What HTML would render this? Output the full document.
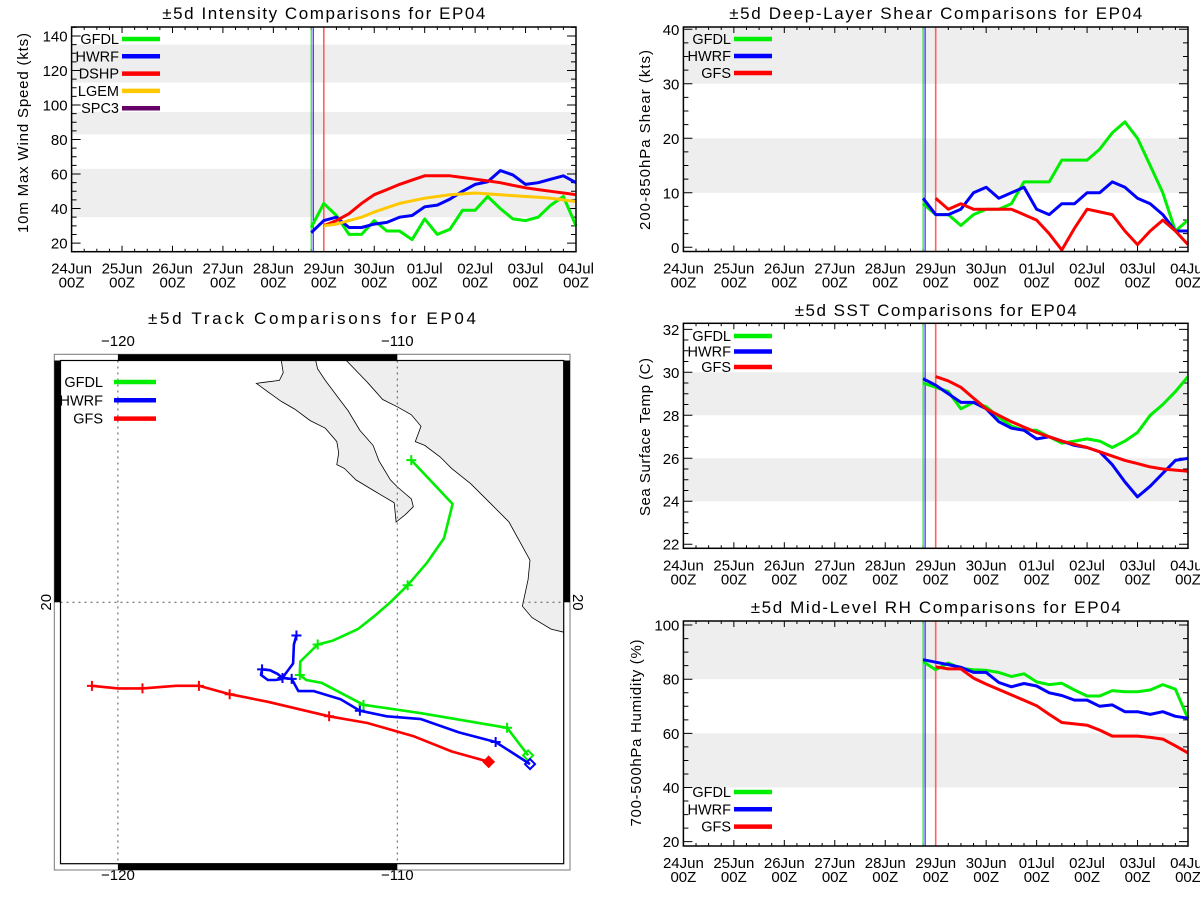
<!DOCTYPE html>
<html><head><meta charset="utf-8"><style>
html,body{margin:0;padding:0;background:#fff}
svg{display:block;font-family:"Liberation Sans",sans-serif}
</style></head><body>
<svg id="root" width="1200" height="900" viewBox="0 0 1200 900" xmlns="http://www.w3.org/2000/svg"></svg>
<script>
// ---------- DATA ----------
const dayLabels = ['24Jun','25Jun','26Jun','27Jun','28Jun','29Jun','30Jun','01Jul','02Jul','03Jul','04Jul'];
const hourLabel = '00Z';
const startEarly = 4.75; // 28Jun 18Z
const startLate = 5.0;   // 29Jun 00Z
const initLinesDays = [4.75, 4.79, 5.0];

const intensityTicks = [20,40,60,80,100,120,140];
const intensityBands = [[35,63],[83,96],[113,135]];
const intGFDL = [29,43,36,25,25,33,27,27,22,34,25,28,39,39,47,40,34,33,35,42,47,30];
const intHWRF = [26,33,35,29,29,31,32,35,36,41,42,45.5,50,54,55.5,62,59.5,54,55,57,59,55];
const intDSHP = [30,33,37,43,48,51,54,56.5,59,59,59,58,57,56,55,53.5,52,51,50,49,48];
const intLGEM = [30,31,33,35,38,40.5,43,44.5,46,47,48,48.5,49,48.5,48,47.5,47,46.5,46,45,44];
const intSPC3 = [];

const shearTicks = [0,10,20,30,40];
const shearBands = [[10,20],[30,42]];
const shrGFDL = [8,6,6,4,6,7,7,8,12,12,12,16,16,16,18,21,23,20,15,10,3,5];
const shrHWRF = [9,6,6,7,10,11,9,10,11,7,6,8,8,10,10,12,11,9,8,6,3,3];
const shrGFS = [9,7,8,7,7,7,7,6,5,2.5,-0.5,3.5,7,6.5,6,3,0.5,3,5,3,0.5];

const sstTicks = [22,24,26,28,30,32];
const sstBands = [[24,26],[28,30]];
const sstGFDL = [29.5,29.3,29.1,28.3,28.6,28.4,27.9,27.5,27.3,27.3,27.0,26.7,26.8,26.9,26.8,26.5,26.8,27.2,28.0,28.5,29.1,29.8];
const sstHWRF = [29.7,29.4,29.0,28.6,28.6,28.3,27.7,27.4,27.3,26.9,27.0,26.8,26.6,26.5,26.3,25.7,24.9,24.2,24.7,25.3,25.9,26.0];
const sstGFS = [29.8,29.6,29.3,28.8,28.3,28.0,27.7,27.45,27.2,27.0,26.8,26.65,26.5,26.3,26.1,25.9,25.75,25.6,25.5,25.45,25.4];

const rhTicks = [20,40,60,80,100];
const rhBands = [[40,60],[80,102]];
const rhGFDL = [86.5,83.5,86,84,83.5,83.3,82.5,81,82,79,78,78.5,76,73.8,73.8,75.8,75.4,75.4,76,78,76.3,65.5];
const rhHWRF = [87.2,86.3,85.4,84.4,82.5,82.5,78.8,77.2,78.4,77.5,75,74,72.3,72.3,70,70.5,68,68,67,68,66.3,65.6];
const rhGFS = [84.6,83.8,83.8,80.4,78.2,76.2,74.2,72.2,70.2,67,64,63.5,63,61.2,59,59,59,58.5,57.9,55.4,52.8];

const trkGFDLlon = [-109.5,-108.02,-108.33,-108.95,-109.63,-110.25,-110.8,-111.41,-112.3,-112.85,-113.47,-113.49,-113.26,-112.71,-111.21,-109.15,-106.07,-105.32];
const trkGFDLlat = [25.09,23.52,22.29,21.4,20.61,20.0,19.52,19.04,18.63,18.49,17.88,17.4,17.22,17.12,16.33,16.03,15.51,14.52];
const trkGFDLmarks = [0,4,9,11,14,16];
const trkHWRFlon = [-113.61,-113.7,-113.73,-114.02,-114.11,-114.36,-114.63,-114.88,-114.84,-114.56,-114.29,-114.11,-113.78,-113.54,-112.99,-112.03,-111.34,-110.38,-109.15,-107.78,-106.48,-105.25];
const trkHWRFlat = [18.81,18.49,17.81,17.42,17.26,17.22,17.22,17.4,17.6,17.57,17.44,17.29,17.26,16.82,16.82,16.53,16.12,15.92,15.82,15.34,15.0,14.21];
const trkHWRFmarks = [0,8,11,12,16,20];
const trkGFSlon = [-120.93,-120.0,-119.12,-117.92,-117.1,-116.0,-114.63,-112.44,-111.07,-109.43,-108.05,-106.73];
const trkGFSlat = [17.01,16.92,16.92,17.01,17.01,16.71,16.44,15.92,15.68,15.21,14.66,14.29];
const trkGFSmarks = [0,2,4,5,7];
const lonTicks = [-120,-110];
const latTicks = [20];

// ---------- helpers ----------
const NS = 'http://www.w3.org/2000/svg';
const root = document.getElementById('root');
function el(tag, attrs, parent){
  const e = document.createElementNS(NS, tag);
  for (const k in attrs) e.setAttribute(k, attrs[k]);
  (parent||root).appendChild(e);
  return e;
}
const COL = {GFDL:'#00ee00', HWRF:'#0000ff', DSHP:'#ff0000', GFS:'#ff0000', LGEM:'#ffc800', SPC3:'#660066'};

function timeChart(cfg){
  const g = el('g', {});
  
  
  const xs = d => cfg.x0 + (d/10)*(cfg.x1-cfg.x0);
  const ys = v => cfg.yb - (v-cfg.vmin)/(cfg.vmax-cfg.vmin)*(cfg.yb-cfg.yt);
  cfg.bands.forEach((b,i)=>{
    const y1 = Math.max(cfg.yt, ys(b[1])), y2 = Math.min(cfg.yb, ys(b[0]));
    const r = el('rect', {x:cfg.x0, y:y1, width:cfg.x1-cfg.x0, height:y2-y1, fill:'#eeeeee'}, g);
    
    
  });
  const t = el('text', {x:(cfg.x0+cfg.x1)/2, y:cfg.titleY, 'text-anchor':'middle', 'font-size':17, textLength:cfg.titleW, lengthAdjust:'spacing'}, g);
  t.textContent = cfg.title;
  
  
  const yt = el('text', {x:0, y:0, transform:`translate(${cfg.ytX},${cfg.ytY}) rotate(-90)`, 'text-anchor':'middle', 'font-size':15, textLength:cfg.ytW, lengthAdjust:'spacing'}, g);
  yt.textContent = cfg.ytitle;
  
  
  let p = '';
  for (let v = Math.ceil(cfg.vmin/cfg.minor)*cfg.minor; v <= cfg.vmax; v += cfg.minor){
    const y = ys(v);
    const major = cfg.ticks.includes(v);
    const L = major ? 9 : 5;
    p += `M${cfg.x0},${y}h${L}M${cfg.x1},${y}h${-L}`;
  }
  cfg.ticks.forEach(v=>{
    const lab = el('text', {x:cfg.x0-4, y:ys(v)+5.5, 'text-anchor':'end', 'font-size':15}, g);
    lab.textContent = v;
    
    
  });
  for (let q = 0; q <= 40; q++){
    const x = xs(q/4);
    const L = (q%4===0) ? 6 : 3;
    p += `M${x},${cfg.yb}v${-L}M${x},${cfg.yt}v${L}`;
  }
  dayLabels.forEach((d,i)=>{
    const x = xs(i);
    const a = el('text', {x:x, y:cfg.yb+22, 'text-anchor':'middle', 'font-size':15}, g);
    a.textContent = d;
    
    
    const b = el('text', {x:x, y:cfg.yb+36, 'text-anchor':'middle', 'font-size':15}, g);
    b.textContent = hourLabel;
    
    
  });
  const tk = el('path', {d:p, stroke:'#000', 'stroke-width':1, fill:'none'}, g);
  
  
  const lc = ['#00dd00','#0000ff','#ff6060'];
  initLinesDays.forEach((d,i)=>{
    const ln = el('line', {x1:xs(d), x2:xs(d), y1:cfg.yt, y2:cfg.yb, stroke:lc[i], 'stroke-width':i==2?1.6:1}, g);
    
    
  });
  cfg.series.forEach(s=>{
    if (!s.vals.length) return;
    const pts = s.vals.map((v,i)=>`${xs(s.start + i*0.25).toFixed(1)},${ys(v).toFixed(1)}`).join(' ');
    const pl = el('polyline', {points:pts, fill:'none', stroke:COL[s.key], 'stroke-width':3, 'stroke-linejoin':'round'}, g);
    
    
  });
  const bx = el('rect', {x:cfg.x0, y:cfg.yt, width:cfg.x1-cfg.x0, height:cfg.yb-cfg.yt, fill:'none', stroke:'#000', 'stroke-width':1.5}, g);
  
  
  cfg.series.forEach((s,i)=>{
    const y = cfg.legY + i*cfg.legDy;
    const lt = el('text', {x:cfg.legX, y:y+5, 'text-anchor':'end', 'font-size':14.5}, g);
    lt.textContent = s.key;
    
    
    const ll = el('line', {x1:cfg.legX+3, x2:cfg.legX+41, y1:y, y2:y, stroke:COL[s.key], 'stroke-width':4.5}, g);
    
    
  });
}

timeChart({name:'intensity-chart', x0:71.6, x1:576, yt:27, yb:251.7, vmin:15, vmax:145.2, ticks:intensityTicks, minor:5, bands:intensityBands,
  title:'±5d Intensity Comparisons for EP04', titleY:19, titleW:323, ytitle:'10m Max Wind Speed (kts)', ytX:28, ytY:133, ytW:200,
  legX:119, legY:39, legDy:17.3,
  series:[{key:'GFDL',vals:intGFDL,start:startEarly},{key:'HWRF',vals:intHWRF,start:startEarly},{key:'DSHP',vals:intDSHP,start:startLate},{key:'LGEM',vals:intLGEM,start:startLate},{key:'SPC3',vals:intSPC3,start:startLate}]});

timeChart({name:'shear-chart', x0:683.4, x1:1188, yt:27, yb:251.5, vmin:-0.77, vmax:40.42, ticks:shearTicks, minor:2.5, bands:shearBands,
  title:'±5d Deep-Layer Shear Comparisons for EP04', titleY:19, titleW:413, ytitle:'200-850hPa Shear (kts)', ytX:650, ytY:140, ytW:180,
  legX:731, legY:39, legDy:17,
  series:[{key:'GFDL',vals:shrGFDL,start:startEarly},{key:'HWRF',vals:shrHWRF,start:startEarly},{key:'GFS',vals:shrGFS,start:startLate}]});

timeChart({name:'sst-chart', x0:683.4, x1:1188, yt:323.3, yb:548.3, vmin:21.81, vmax:32.28, ticks:sstTicks, minor:0.5, bands:sstBands,
  title:'±5d SST Comparisons for EP04', titleY:316, titleW:282, ytitle:'Sea Surface Temp (C)', ytX:650, ytY:437, ytW:158,
  legX:731, legY:336, legDy:15.5,
  series:[{key:'GFDL',vals:sstGFDL,start:startEarly},{key:'HWRF',vals:sstHWRF,start:startEarly},{key:'GFS',vals:sstGFS,start:startLate}]});

timeChart({name:'rh-chart', x0:683.4, x1:1188, yt:621, yb:846, vmin:18.4, vmax:101.5, ticks:rhTicks, minor:5, bands:rhBands,
  title:'±5d Mid-Level RH Comparisons for EP04', titleY:613, titleW:370, ytitle:'700-500hPa Humidity (%)', ytX:641, ytY:733, ytW:187,
  legX:731, legY:792, legDy:17.3,
  series:[{key:'GFDL',vals:rhGFDL,start:startEarly},{key:'HWRF',vals:rhHWRF,start:startEarly},{key:'GFS',vals:rhGFS,start:startLate}]});

// ---------- track map ----------
(function(){
  const g = el('g', {});
  
  
  const L = 60.5, R = 563.7, T = 360.5, B = 863.7;
  const lonX = lon => 117.9 + (lon + 120) * 27.94;
  const latY = lat => 602.3 - (lat - 20) * 27.94;
  const t = el('text', {x:312, y:324, 'text-anchor':'middle', 'font-size':17, textLength:328, lengthAdjust:'spacing'}, g);
  t.textContent = '±5d Track Comparisons for EP04';
  
  
  const clip = el('clipPath', {id:'mapclip'}, g);
  el('rect', {x:L, y:T, width:R-L, height:B-T}, clip);
  const land = el('g', {'clip-path':'url(#mapclip)'}, g);
  const mainland = el('polygon', {points:'346.3,360.5 367.4,382.3 382.7,399.5 398,407.2 411.4,414.8 421,426.3 415.3,441.6 424.8,445.4 440.1,456.9 451.6,468.4 470.7,483.7 489.9,502.8 509,522 530,560.2 528.1,579.4 522.4,606.2 532,617.6 551.1,629.1 563.7,632.2 570,632 570,355 346,355', fill:'#eeeeee', stroke:'#000', 'stroke-width':0.8}, land);
  
  
  const baja = el('polygon', {points:'281.3,355 281.3,360.5 283.2,372.7 279.4,380.4 264.1,382.3 256.4,383.4 267.9,391.8 281.3,401.4 294.7,409.1 310,420.5 325.3,428.2 336.8,441.6 338.7,453.1 336.8,464.6 344.4,468.4 355.9,479.9 375,491.4 394.2,502.8 396.1,522 405.7,514.3 413.3,506.7 411.4,499 398,487.5 390.4,479.9 378.9,460.7 373.1,445.4 359.7,430.1 348.3,411 336.8,395.7 325.3,380.4 317.6,368.9 315.7,360.5 315.7,355', fill:'#eeeeee', stroke:'#000', 'stroke-width':0.8}, land);
  
  
  lonTicks.forEach(lon=>{
    const x = lonX(lon);
    const gl = el('line', {x1:x, x2:x, y1:T, y2:B, stroke:'#555', 'stroke-width':1, 'stroke-dasharray':'2,4'}, g);
    
    
    [346, 880].forEach(yy=>{
      const lb = el('text', {x:x, y:yy, 'text-anchor':'middle', 'font-size':15}, g);
      lb.textContent = '\u2212' + Math.abs(lon);
      
      
    });
  });
  latTicks.forEach(lat=>{
    const y = latY(lat);
    const gl = el('line', {x1:L, x2:R, y1:y, y2:y, stroke:'#555', 'stroke-width':1, 'stroke-dasharray':'2,4'}, g);
    
    
    const a = el('text', {x:0, y:0, transform:`translate(51,${y}) rotate(-90)`, 'text-anchor':'middle', 'font-size':15}, g);
    a.textContent = lat;
    
    
    const b = el('text', {x:0, y:0, transform:`translate(573,${y}) rotate(90)`, 'text-anchor':'middle', 'font-size':15}, g);
    b.textContent = lat;
    
    
  });
  const of = el('rect', {x:54.3, y:354.3, width:515.7, height:515.7, fill:'none', stroke:'#777', 'stroke-width':1}, g);
  
  
  const bars = [[lonX(-120),354.3,lonX(-110)-lonX(-120),6.2],[lonX(-120),863.7,lonX(-110)-lonX(-120),6.3],[54.3,T,6.2,latY(20)-T],[R,T,6.3,latY(20)-T]];
  bars.forEach(b=>{
    const r = el('rect', {x:b[0], y:b[1], width:b[2], height:b[3], fill:'#000'}, g);
    
    
  });
  const inf = el('rect', {x:L, y:T, width:R-L, height:B-T, fill:'none', stroke:'#000', 'stroke-width':1.2}, g);
  
  
  const tracks = [['GFDL',trkGFDLlon,trkGFDLlat,trkGFDLmarks,'#00ee00'],['HWRF',trkHWRFlon,trkHWRFlat,trkHWRFmarks,'#0000ff'],['GFS',trkGFSlon,trkGFSlat,trkGFSmarks,'#ff0000']];
  tracks.forEach(tr=>{
    const pts = tr[1].map((lon,i)=>`${lonX(lon).toFixed(1)},${latY(tr[2][i]).toFixed(1)}`).join(' ');
    const pl = el('polyline', {points:pts, fill:'none', stroke:tr[4], 'stroke-width':2.6, 'stroke-linejoin':'round'}, g);
    
    
    let d = '';
    tr[3].forEach(i=>{ const x = lonX(tr[1][i]), y = latY(tr[2][i]); d += `M${x-5},${y}h10M${x},${y-5}v10`; });
    const mk = el('path', {d:d, stroke:tr[4], 'stroke-width':2, fill:'none'}, g);
    
    
    const n = tr[1].length-1, ex = lonX(tr[1][n]), ey = latY(tr[2][n]);
    const dm = el('polygon', {points:`${ex},${ey-5} ${ex+5},${ey} ${ex},${ey+5} ${ex-5},${ey}`, fill:tr[0]==='GFS'?tr[4]:'none', stroke:tr[4], 'stroke-width':2}, g);
    
    
  });
  tracks.forEach((tr,i)=>{
    const y = 382 + i*18.3;
    const lt = el('text', {x:103, y:y+5, 'text-anchor':'end', 'font-size':14.5}, g);
    lt.textContent = tr[0];
    
    
    const ll = el('line', {x1:114, x2:156, y1:y, y2:y, stroke:tr[4], 'stroke-width':4.5}, g);
    
    
  });
})();
</script>
</body></html>
